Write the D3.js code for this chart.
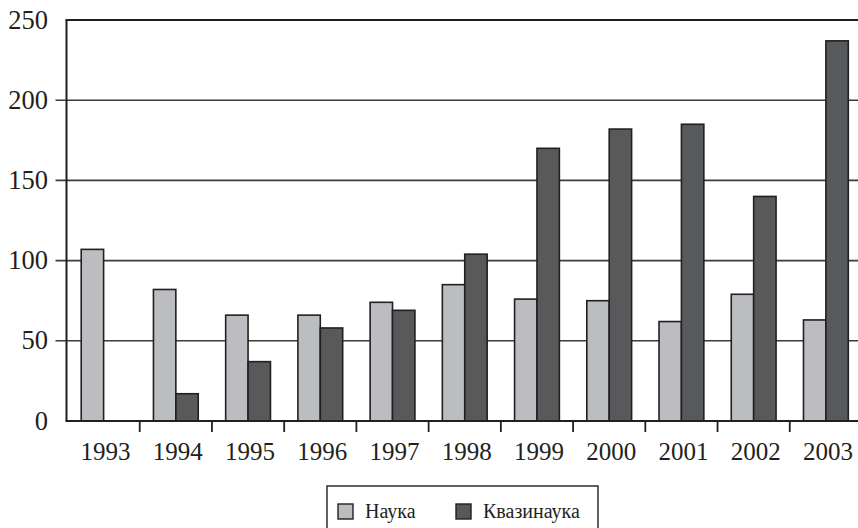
<!DOCTYPE html>
<html><head><meta charset="utf-8"><script src="https://cdn.jsdelivr.net/npm/d3@7"></script></head>
<body style="margin:0">
<script>
// years and the two series
var years = ["1993", "1994", "1995", "1996", "1997", "1998", "1999", "2000", "2001", "2002", "2003"];
var nauka = [107, 82, 66, 66, 74, 85, 76, 75, 62, 79, 63];
var kvazi = [0, 17, 37, 58, 69, 104, 170, 182, 185, 140, 237];
var seriesNames = ["Наука", "Квазинаука"];
var yTicks = [0, 50, 100, 150, 200, 250];

var colors = ["#bcbdc0", "#58595b"];
var ink = "#231f20";
var serif = "Liberation Serif";

var width = 858, height = 528;
var margin = {top: 20, right: -4, bottom: 107, left: 67.5};

var svg = d3.select("body").append("svg")
  .attr("width", width)
  .attr("height", height);

var x = d3.scaleBand()
  .domain(years)
  .range([margin.left, width - margin.right])
  .paddingInner(0)
  .paddingOuter(0);

var y = d3.scaleLinear()
  .domain([0, 250])
  .range([height - margin.bottom, margin.top]);

var barW = 22.4;

// grid lines
svg.append("g").selectAll("line")
  .data(yTicks.filter(d => d > 0))
  .enter().append("line")
  .attr("x1", d => d === 250 ? margin.left - 2 : margin.left - 12)
  .attr("x2", width)
  .attr("y1", d => y(d))
  .attr("y2", d => y(d))
  .attr("stroke", d => d === 250 ? ink : "#3d3b3c")
  .attr("stroke-width", d => d === 250 ? 2.2 : 1.6);

// y labels
yTicks.forEach(function(d) {
  svg.append("text")
    .attr("x", 48)
    .attr("y", y(d) + 8.5)
    .attr("text-anchor", "end")
    .attr("font-size", 26.5)
    .style("font-family", serif)
    .attr("fill", ink)
    .text(d);
});

// bars
var data = years.map((yr, i) => ({year: yr, vals: [nauka[i], kvazi[i]]}));
var groups = svg.append("g").selectAll("g")
  .data(data)
  .enter().append("g")
  .attr("transform", d => "translate(" + (x(d.year) + x.bandwidth() / 2 - barW) + ",0)");

groups.selectAll("rect")
  .data(d => d.vals.map((v, j) => ({v: v, j: j})).filter(e => e.v > 0))
  .enter().append("rect")
  .attr("x", e => e.j * barW)
  .attr("y", e => y(e.v))
  .attr("width", barW)
  .attr("height", e => y(0) - y(e.v))
  .attr("fill", e => colors[e.j])
  .attr("stroke", ink)
  .attr("stroke-width", 1.6);

// axes lines
svg.append("line")
  .attr("x1", margin.left - 1).attr("x2", margin.left - 1)
  .attr("y1", y(250)).attr("y2", y(0))
  .attr("stroke", ink).attr("stroke-width", 2);
svg.append("line")
  .attr("x1", margin.left - 2).attr("x2", width)
  .attr("y1", y(0)).attr("y2", y(0))
  .attr("stroke", ink).attr("stroke-width", 2);

// category ticks between bands
svg.append("g").selectAll("line")
  .data(years.slice(1))
  .enter().append("line")
  .attr("x1", d => x(d)).attr("x2", d => x(d))
  .attr("y1", y(0)).attr("y2", y(0) + 11)
  .attr("stroke", ink).attr("stroke-width", 1.8);

// year labels
years.forEach(function(d) {
  svg.append("text")
    .attr("x", x(d) + x.bandwidth() / 2 + 2)
    .attr("y", 460)
    .attr("text-anchor", "middle")
    .attr("font-size", 25)
    .style("font-family", serif)
    .attr("fill", ink)
    .text(d);
});

// legend
svg.append("rect")
  .attr("x", 327).attr("y", 486)
  .attr("width", 271).attr("height", 60)
  .attr("fill", "none").attr("stroke", ink).attr("stroke-width", 1.4);

var legX = [338, 456];
seriesNames.forEach(function(name, i) {
  svg.append("rect")
    .attr("x", legX[i]).attr("y", 504)
    .attr("width", 15).attr("height", 15)
    .attr("fill", colors[i]).attr("stroke", ink).attr("stroke-width", 1.4);
  svg.append("text")
    .attr("x", legX[i] + 27).attr("y", 518)
    .attr("font-size", 20)
    .style("font-family", serif)
    .attr("fill", ink)
    .text(name);
});
</script></body></html>
